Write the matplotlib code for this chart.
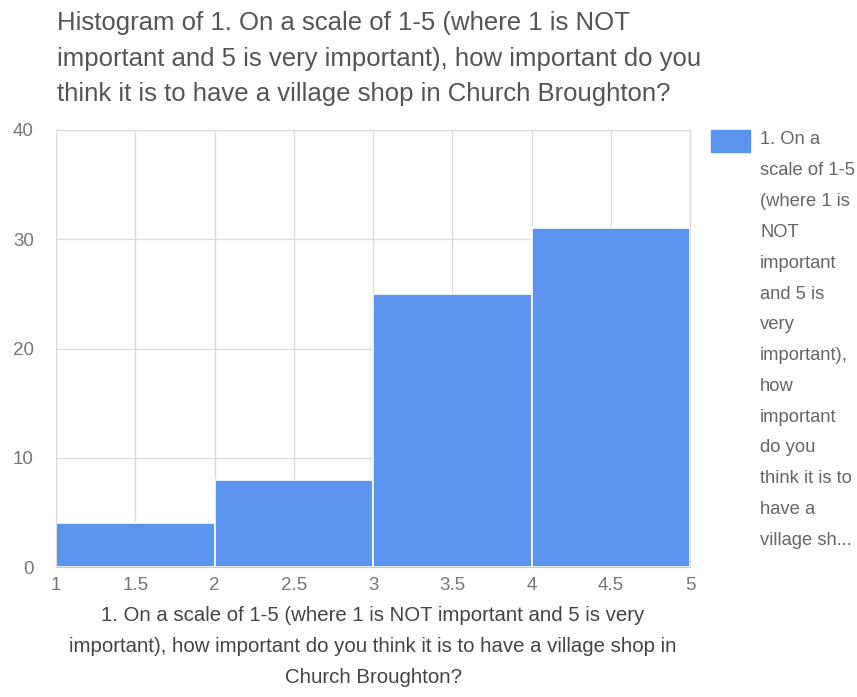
import matplotlib.pyplot as plt
import numpy as np

# histogram data
bin_edges = [1, 2, 3, 4, 5]
counts = [4, 8, 25, 31]
x_ticks = [1, 1.5, 2, 2.5, 3, 3.5, 4, 4.5, 5]
x_tick_labels = ["1", "1.5", "2", "2.5", "3", "3.5", "4", "4.5", "5"]
y_ticks = [0, 10, 20, 30, 40]

title = ("Histogram of 1. On a scale of 1-5 (where 1 is NOT\n"
         "important and 5 is very important), how important do you\n"
         "think it is to have a village shop in Church Broughton?")
xlabel = ("1. On a scale of 1-5 (where 1 is NOT important and 5 is very\n"
          "important), how important do you think it is to have a village shop in\n"
          "Church Broughton?")
legend_lines = ["1. On a", "scale of 1-5", "(where 1 is", "NOT", "important",
                "and 5 is", "very", "important),", "how", "important",
                "do you", "think it is to", "have a", "village sh..."]

bar_color = "#5b93ee"
plt.rcParams['font.family'] = ['Liberation Sans', 'DejaVu Sans']

fig = plt.figure(figsize=(8.57, 6.97), dpi=100)
ax = fig.add_axes([0.0653, 0.1865, 0.740, 0.627])

lefts = np.array(bin_edges[:-1])
widths = np.diff(bin_edges)
ax.bar(lefts, counts, width=widths, align='edge', color=bar_color,
       edgecolor='white', linewidth=1.2, zorder=2)

ax.set_xlim(1, 5)
ax.set_ylim(0, 40)
ax.set_xticks(x_ticks)
ax.set_xticklabels(x_tick_labels)
ax.set_yticks(y_ticks)
ax.grid(True, color='#dddddd', linewidth=1, zorder=0)
ax.set_axisbelow(True)
for s in ax.spines.values():
    s.set_color('#dddddd')
ax.spines['bottom'].set_color('#cccccc')
ax.tick_params(length=0, labelsize=13.5, colors='#777777', pad=7)
ax.tick_params(axis='y', pad=16)

fig.text(0.066, 0.984, title, ha='left', va='top', fontsize=18.5,
         color='#555555', linespacing=1.6)
ax.set_xlabel(xlabel, fontsize=14.7, color='#444444', linespacing=1.8, labelpad=9)

# legend: blue swatch + wrapped label
fig.patches.append(plt.Rectangle((711 / 857, 1 - 152 / 697), 39 / 857, 22 / 697,
                                 transform=fig.transFigure, color=bar_color))
for i, line in enumerate(legend_lines):
    fig.text(760 / 857, 1 - (140 + i * 30.8) / 697, line, ha='left', va='center',
             fontsize=13.2, color='#666666')

fig.savefig("out.png", dpi=100)
